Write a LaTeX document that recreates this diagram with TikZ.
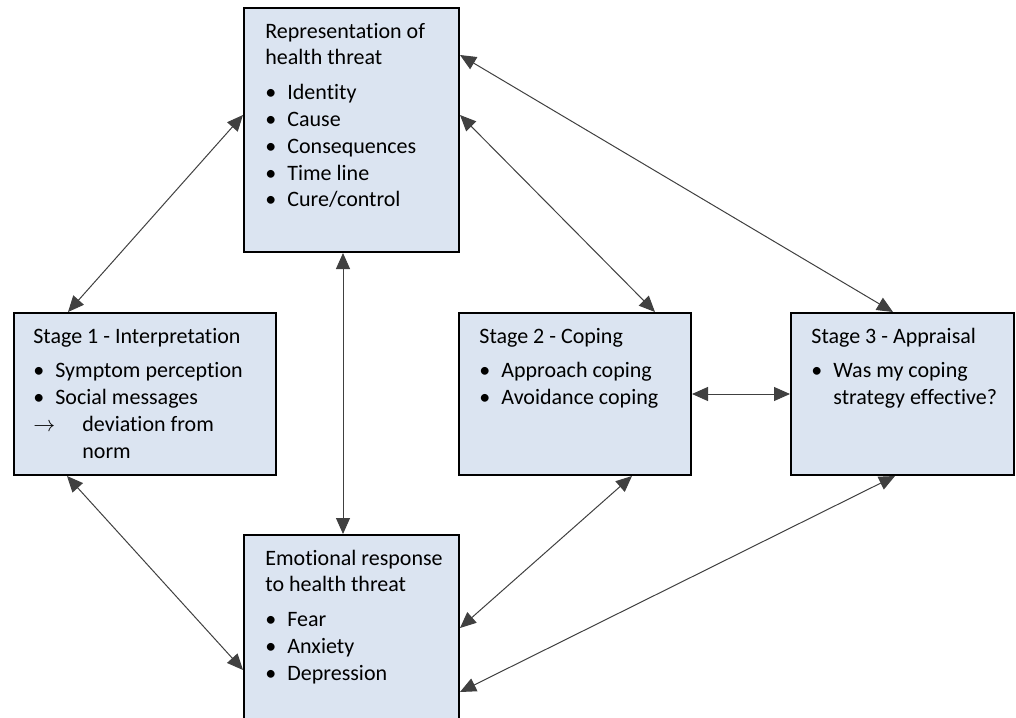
\documentclass[tikz,border=0pt]{standalone}
\usepackage{fontspec}
\setmainfont{Carlito}[Ligatures={NoCommon}]
\usepackage{xcolor}
\usepackage{tikz}
\usetikzlibrary{arrows.meta, calc}
\definecolor{boxblue}{RGB}{219, 228, 241}
\definecolor{arrowgray}{RGB}{64, 64, 64}
\tikzset{
    stagebox/.style={rectangle, draw=black, line width=1pt, fill=boxblue, anchor=north west, inner sep=0pt},
    boxtext/.style={anchor=north west, inner sep=0pt, font=\fontsize{11}{13.4}\selectfont},
    arrow/.style={draw=arrowgray, line width=0.5pt, {Triangle[length=8pt,width=7pt]}-{Triangle[length=8pt,width=7pt]}}
}
\newcommand{\bitem}[1]{\par\hangindent=11pt\hangafter=1\noindent\makebox[11pt][l]{\textbullet}#1}
\newcommand{\aitem}[1]{\par\hangindent=24.5pt\hangafter=1\noindent\makebox[24.5pt][l]{$\rightarrow$}#1}
\newcommand{\boxtitle}[1]{\strut #1\par\vspace{4pt}}

\begin{document}
\begin{tikzpicture}[x=0.5pt, y=-0.5pt]
    \clip (0,0) rectangle (1016,717);
    % boxes
    \node (rep) [stagebox, minimum width=107.5pt, minimum height=122pt] at (243,7) {};
    \node (s1) [stagebox, minimum width=131pt, minimum height=81pt] at (13,312) {};
    \node (s2) [stagebox, minimum width=116pt, minimum height=81pt] at (458,312) {};
    \node (s3) [stagebox, minimum width=111.5pt, minimum height=81pt] at (790,312) {};
    \node (emo) [stagebox, minimum width=107.5pt, minimum height=98pt] at (243,534) {};

    % texts
    \node (reptext) [boxtext] at ($(rep.north west)+(22,12)$) {\parbox[t]{90pt}{\raggedright
        \boxtitle{Representation of\\health threat}
        \bitem{Identity}
        \bitem{Cause}
        \bitem{Consequences}
        \bitem{Time line}
        \bitem{Cure/control}}};
    \node (s1text) [boxtext] at ($(s1.north west)+(20,12)$) {\parbox[t]{115pt}{\raggedright
        \boxtitle{Stage 1 - Interpretation}
        \bitem{Symptom perception}
        \bitem{Social messages}
        \aitem{deviation from\newline norm}}};
    \node (s2text) [boxtext] at ($(s2.north west)+(21,12)$) {\parbox[t]{100pt}{\raggedright
        \boxtitle{Stage 2 - Coping}
        \bitem{Approach coping}
        \bitem{Avoidance coping}}};
    \node (s3text) [boxtext] at ($(s3.north west)+(21,12)$) {\parbox[t]{100pt}{\raggedright
        \boxtitle{Stage 3 - Appraisal}
        \bitem{Was my coping\newline strategy effective?}}};
    \node (emotext) [boxtext] at ($(emo.north west)+(22,12)$) {\parbox[t]{95pt}{\raggedright
        \boxtitle{Emotional response\\to health threat}
        \bitem{Fear}
        \bitem{Anxiety}
        \bitem{Depression}}};

    % connectors
    \draw [arrow] ($(rep.north west)+(0,108)$) -- ($(s1.north west)+(55,0)$);
    \draw [arrow] ($(rep.north east)+(0,108)$) -- ($(s2.north west)+(197,0)$);
    \draw [arrow] ($(rep.north east)+(0,48)$) -- ($(s3.north west)+(103,0)$);
    \draw [arrow] ($(rep.south west)+(100,0)$) -- ($(emo.north west)+(100,0)$);
    \draw [arrow] ($(s1.south west)+(54,0)$) -- ($(emo.north west)+(0,136)$);
    \draw [arrow] (s2.east) -- (s3.west);
    \draw [arrow] ($(s2.south west)+(174,0)$) -- ($(emo.north east)+(0,94)$);
    \draw [arrow] ($(s3.south west)+(105,0)$) -- ($(emo.north east)+(0,158)$);
\end{tikzpicture}
\end{document}
